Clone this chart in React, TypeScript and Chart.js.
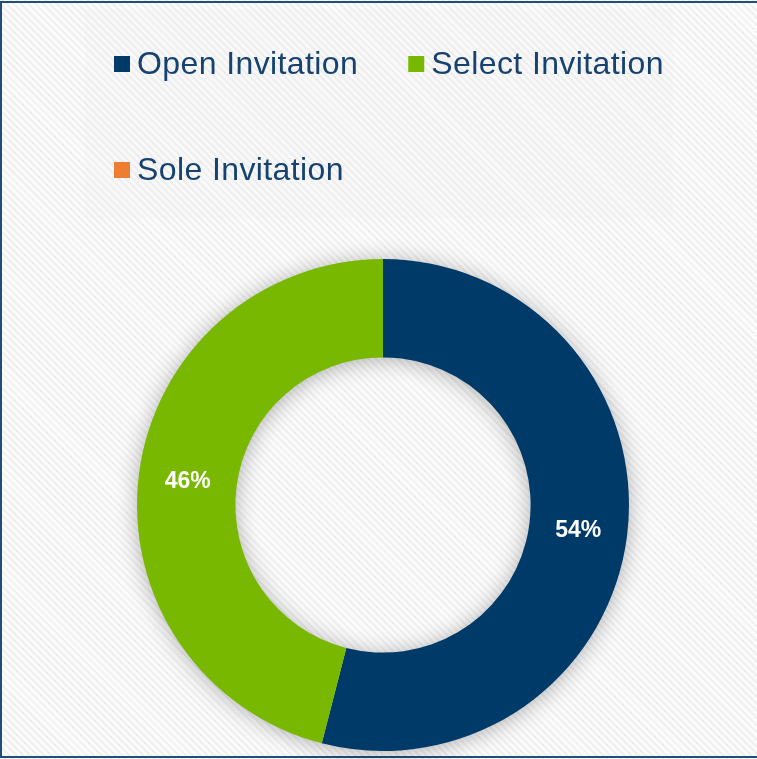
import React, { useEffect, useRef } from "react";
import { Chart, registerables } from "chart.js";

Chart.register(...registerables);

const categories = ["Open Invitation", "Select Invitation", "Sole Invitation"];
const shares = [54, 46, 0];
const sliceColors = ["#003A68", "#78B800", "#ED7D31"];

const legendTextColor = "#17426F";
const legendFont = '32px "Liberation Sans", Arial, sans-serif';

const ringShadow = {
  id: "ringShadow",
  beforeDatasetsDraw(chart: any) {
    const meta = chart.getDatasetMeta(0);
    const arc = meta.data[0];
    if (!arc) return;
    const { x, y, outerRadius, innerRadius } = arc.getProps(["x", "y", "outerRadius", "innerRadius"], true);
    const ctx = chart.ctx;
    ctx.save();
    ctx.shadowColor = "rgba(0,0,0,0.32)";
    ctx.shadowBlur = 22;
    ctx.shadowOffsetX = 0;
    ctx.shadowOffsetY = 2;
    ctx.beginPath();
    ctx.arc(x, y, outerRadius - 1, 0, Math.PI * 2);
    ctx.arc(x, y, innerRadius + 1, 0, Math.PI * 2, true);
    ctx.closePath();
    ctx.fillStyle = "#cccccc";
    ctx.fill();
    ctx.restore();
  },
};

const sliceLabels = {
  id: "sliceLabels",
  afterDatasetsDraw(chart: any) {
    const ctx = chart.ctx;
    const ds = chart.data.datasets[0];
    const total = ds.data.reduce((a: number, b: number) => a + b, 0);
    const meta = chart.getDatasetMeta(0);
    ctx.save();
    ctx.font = 'bold 23px "Liberation Sans", Arial, sans-serif';
    ctx.fillStyle = "#ffffff";
    ctx.textAlign = "center";
    ctx.textBaseline = "middle";
    meta.data.forEach((el: any, i: number) => {
      const v = ds.data[i];
      if (!v) return;
      const p = el.tooltipPosition(true);
      ctx.fillText(Math.round((v / total) * 100) + "%", p.x, p.y + 1);
    });
    ctx.restore();
  },
};

const customLegend = {
  id: "customLegend",
  afterDraw(chart: any) {
    const ctx = chart.ctx;
    const labels: string[] = chart.data.labels;
    const colors: string[] = chart.data.datasets[0].backgroundColor;
    ctx.save();
    ctx.font = legendFont;
    try {
      (ctx as any).letterSpacing = "0.4px";
    } catch (e) {}
    ctx.textBaseline = "alphabetic";
    ctx.textAlign = "left";
    const startX = 114;
    const box = 16;
    const textGap = 23;
    const itemGap = 34;
    const rowH = 106;
    const maxRight = 700;
    let x = startX;
    let baseline = 74;
    labels.forEach((lab, i) => {
      const w = box + textGap + ctx.measureText(lab).width;
      if (i > 0 && x + w > maxRight) {
        x = startX;
        baseline += rowH;
      }
      ctx.fillStyle = colors[i];
      ctx.fillRect(x, baseline - 18, box, box);
      ctx.fillStyle = legendTextColor;
      ctx.fillText(lab, x + textGap, baseline);
      x += w + itemGap;
    });
    ctx.restore();
  },
};

export default function App() {
  const ref = useRef<HTMLCanvasElement | null>(null);

  useEffect(() => {
    if (!ref.current) return;
    const chart = new Chart(ref.current, {
      type: "doughnut",
      data: {
        labels: categories,
        datasets: [
          {
            data: shares,
            backgroundColor: sliceColors,
            borderWidth: 0,
            hoverOffset: 0,
          },
        ],
      },
      options: {
        responsive: false,
        animation: false,
        cutout: "60%",
        layout: { padding: { top: 259, bottom: 8, left: 9, right: 0 } },
        plugins: {
          legend: { display: false },
          tooltip: { enabled: false },
        },
      },
      plugins: [ringShadow, sliceLabels, customLegend],
    });
    return () => chart.destroy();
  }, []);

  return (
    <div
      style={{
        position: "fixed",
        left: 0,
        top: 0,
        width: 757,
        height: 759,
        overflow: "hidden",
        background:
          "repeating-linear-gradient(45deg, #fbfbfb 0px, #fbfbfb 3px, #efefef 3px, #efefef 5px)",
      }}
    >
      <div
        style={{
          position: "absolute",
          left: 85,
          top: 10,
          width: 588,
          height: 208,
          background: "rgba(238,238,238,0.15)",
        }}
      />
      <div
        style={{
          position: "absolute",
          left: 0,
          top: 1,
          width: 800,
          height: 753,
          border: "2px solid #1F4E7A",
          borderRight: "none",
        }}
      />
      <canvas
        ref={ref}
        width={757}
        height={759}
        style={{ position: "absolute", left: 0, top: 0 }}
      />
    </div>
  );
}
